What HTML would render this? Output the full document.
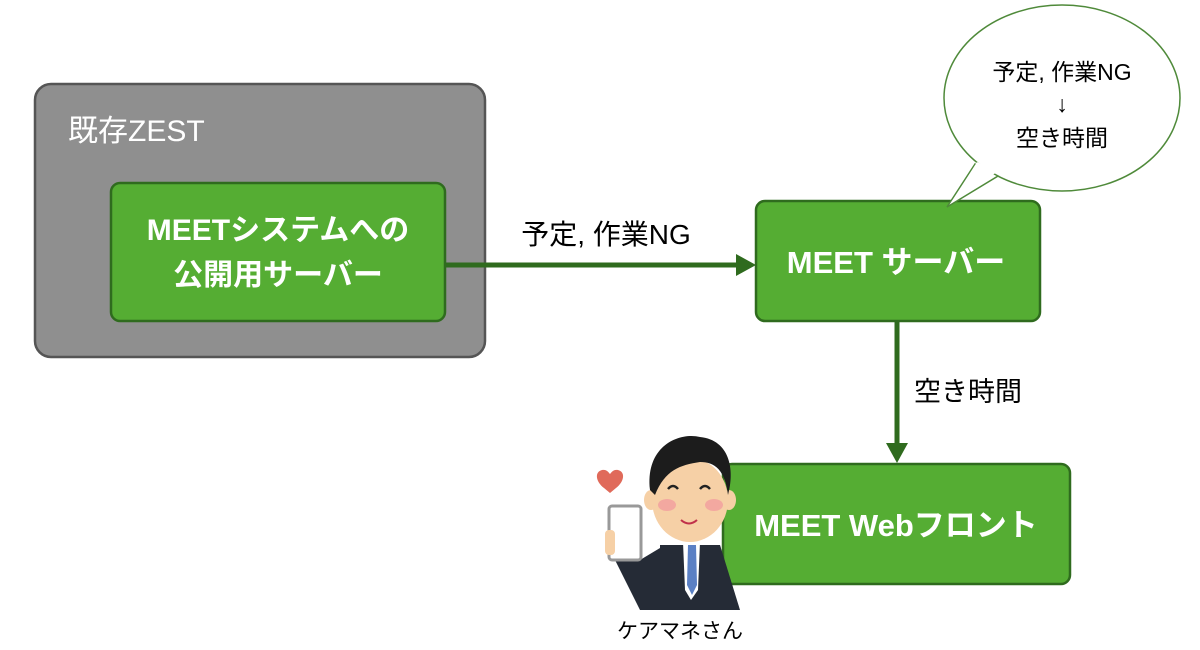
<!DOCTYPE html>
<html><head><meta charset="utf-8"><style>
html,body{margin:0;padding:0;background:#fff;}
svg{display:block;font-family:"Liberation Sans","Noto Sans CJK JP",sans-serif;}
</style></head><body>
<svg width="1200" height="650" viewBox="0 0 1200 650" xmlns="http://www.w3.org/2000/svg">
<rect x="35" y="84" width="450" height="273" rx="16" fill="#8f8f8f" stroke="#555" stroke-width="2.5"/>
<text x="68" y="141" font-size="30" fill="#fff">既存ZEST</text>
<rect x="111" y="183" width="334" height="138" rx="9" fill="#55ad33" stroke="#2f6b1e" stroke-width="2.5"/>
<text x="278" y="240" font-size="30" font-weight="bold" fill="#fff" text-anchor="middle">MEETシステムへの</text>
<text x="278" y="285" font-size="30" font-weight="bold" fill="#fff" text-anchor="middle">公開用サーバー</text>
<line x1="446" y1="265" x2="738" y2="265" stroke="#2f6b1e" stroke-width="5"/>
<polygon points="736,254 756,265 736,276" fill="#2f6b1e"/>
<text x="606" y="244" font-size="28" fill="#000" text-anchor="middle">予定, 作業NG</text>
<rect x="756" y="201" width="284" height="120" rx="9" fill="#55ad33" stroke="#2f6b1e" stroke-width="2.5"/>
<text x="896" y="273" font-size="31" font-weight="bold" fill="#fff" text-anchor="middle">MEET サーバー</text>
<line x1="897" y1="322" x2="897" y2="445" stroke="#2f6b1e" stroke-width="5"/>
<polygon points="886,443 897,463 908,443" fill="#2f6b1e"/>
<text x="914" y="401" font-size="27" fill="#000">空き時間</text>
<rect x="723" y="464" width="347" height="120" rx="9" fill="#55ad33" stroke="#2f6b1e" stroke-width="2.5"/>
<text x="896" y="536" font-size="31" font-weight="bold" fill="#fff" text-anchor="middle">MEET Webフロント</text>
<ellipse cx="1062" cy="98" rx="118" ry="93" fill="#fff" stroke="#4f8a3a" stroke-width="1.5"/>
<polygon points="975,164 947,207 998,176" fill="#fff" stroke="#4f8a3a" stroke-width="1.5"/>
<polygon points="977,162 952,202 997,172" fill="#fff"/>
<text x="1062" y="80" font-size="23" fill="#000" text-anchor="middle">予定, 作業NG</text>
<text x="1062" y="112" font-size="23" fill="#000" text-anchor="middle">↓</text>
<text x="1062" y="146" font-size="23" fill="#000" text-anchor="middle">空き時間</text>
<!-- person -->
<path d="M604,488 c-8,-6 -10,-16 -2,-18 c5,-1 7,3 8,4 c1,-1 3,-5 8,-4 c8,2 6,12 -2,18 l-6,5z" fill="#e06a5a"/>
<path d="M660,545 L720,545 L740,610 L660,610 Z" fill="#252b36"/>
<path d="M615,560 L640,560 L665,545 L665,610 L640,610 Z" fill="#252b36"/>
<rect x="609" y="506" width="32" height="54" rx="3" fill="#fff" stroke="#999" stroke-width="3"/>
<rect x="605" y="530" width="10" height="25" rx="4" fill="#f6d0a6"/>
<polygon points="683,542 700,542 698,590 691,600 685,590" fill="#fff"/>
<polygon points="688,545 696,545 697,585 692,595 687,585" fill="#5b80c4"/>
<ellipse cx="690" cy="500" rx="38" ry="42" fill="#f6d0a6"/>
<ellipse cx="651" cy="500" rx="7" ry="10" fill="#f6d0a6"/>
<ellipse cx="729" cy="500" rx="7" ry="10" fill="#f6d0a6"/>
<ellipse cx="667" cy="505" rx="9" ry="6" fill="#f3a8a0"/>
<ellipse cx="714" cy="505" rx="9" ry="6" fill="#f3a8a0"/>
<path d="M650,490 C645,445 680,432 700,437 C730,440 735,470 728,495 C725,470 715,462 700,462 C680,465 665,470 655,495 Z" fill="#1c1c1c"/>
<path d="M668,489 q5,-6 10,0 M700,489 q5,-6 10,0" stroke="#222" stroke-width="2.5" fill="none"/>
<path d="M681,520 q8,7 16,0" stroke="#c0304a" stroke-width="2" fill="none"/>
<text x="680" y="638" font-size="21" fill="#000" text-anchor="middle">ケアマネさん</text>
</svg>
</body></html>
